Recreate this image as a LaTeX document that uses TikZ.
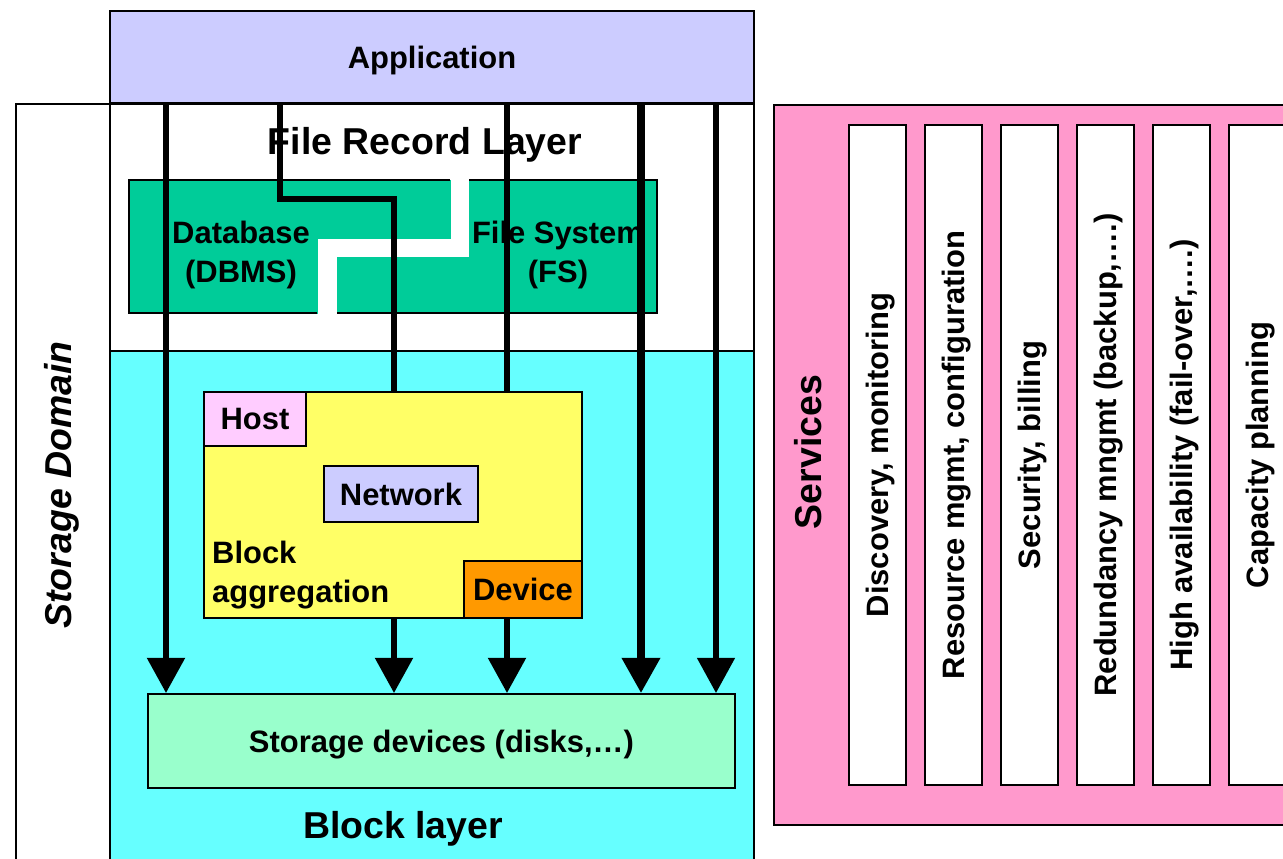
\documentclass[tikz,border=0pt]{standalone}
\usepackage{fontspec}
\setmainfont{Liberation Sans}
\usepackage{xcolor}
\usetikzlibrary{arrows.meta, positioning, calc}
\definecolor{sdlav}{RGB}{204,204,255}
\definecolor{sdgreen}{RGB}{0,204,153}
\definecolor{sdcyan}{RGB}{102,255,255}
\definecolor{sdyellow}{RGB}{255,255,102}
\definecolor{sdhost}{RGB}{255,204,255}
\definecolor{sdorange}{RGB}{255,153,0}
\definecolor{sdmint}{RGB}{153,255,204}
\definecolor{sdpink}{RGB}{255,153,204}
\newcommand{\bodyfont}{\fontsize{17.6}{22.6}\selectfont\bfseries}
\newcommand{\titlefont}{\fontsize{21.3}{25}\selectfont\bfseries}
\tikzset{
  box/.style={draw=black, line width=1.1pt, inner sep=0pt, text depth=0pt, font=\bodyfont},
  sz/.style 2 args={minimum width=#1*0.2mm, minimum height=#2*0.2mm},
  wire/.style={line width=3.3pt},
  flow/.style={line width=3.3pt, -{Triangle[length=20pt, width=21pt]}},
}

\begin{document}
\begin{tikzpicture}[x=0.2mm, y=-0.2mm]
\useasboundingbox (0,0) rectangle (1283,858);
\fill[white] (0,0) rectangle (1283,858);
\clip (0,0) rectangle (1283,858);

% layers
\node[box, fill=white, sz={94}{770}, anchor=north west] (domain) at (15,103) {};
\node[rotate=90, font=\titlefont\itshape] (domlbl) at (62,485) {Storage Domain};
\node[box, fill=sdlav, sz={644}{92}, anchor=north west] (app) at (109,10) {Application};
\node[box, fill=white, sz={644}{247}, anchor=north west] (frl) at (109,103) {};
\node[font=\titlefont] (frllbl) at (425,145) {File Record Layer};
\node[box, fill=sdcyan, sz={644}{520}, anchor=north west] (blk) at (109,350) {};
\node[font=\titlefont] (blklbl) at (403,829) {Block layer};

% database / file system
\draw[sdgreen, fill=sdgreen] (129,180) -- (450,180) -- (450,238) -- (317,238)
  -- (317,313) -- (129,313) -- cycle;
\draw[line width=1.1pt] (450,180) -- (129,180) -- (129,313) -- (317,313);
\draw[sdgreen, fill=sdgreen] (469,180) -- (657,180) -- (657,313) -- (337,313)
  -- (337,257) -- (469,257) -- cycle;
\draw[line width=1.1pt] (469,180) -- (657,180) -- (657,313) -- (337,313);
\node[font=\bodyfont, align=center] (dbms) at (241,255) {Database\\(DBMS)};
\node[font=\bodyfont, align=center] (fs) at (558,255) {File System\\(FS)};

% block aggregation
\node[box, fill=sdyellow, sz={378}{226}, anchor=north west] (agg) at (203,391) {};
\node[box, fill=sdhost, sz={102}{54}, anchor=north west] (host) at (203,391) {Host};
\node[box, fill=sdlav, sz={154}{56}, anchor=north west] (net) at (323,465) {Network};
\node[box, fill=sdorange, sz={118}{57}, anchor=north west] (dev) at (463,560) {Device};
\node[font=\bodyfont, align=left, anchor=west] (agglbl) at (206,575) {Block\\aggregation};
\node[box, fill=sdmint, sz={587}{94}, anchor=north west] (disks) at (147,693)
  {Storage devices (disks,…)};

% ---- services ----
\node[box, fill=sdpink, sz={530}{720}, anchor=north west] (srv) at (773,104) {};
\node[rotate=90, font=\titlefont] (srvlbl) at (808,452) {Services};
\foreach \i/\txt in {0/{Discovery, monitoring},
                     1/{Resource mgmt, configuration},
                     2/{Security, billing},
                     3/{Redundancy mngmt (backup,….)},
                     4/{High availability (fail-over,….)},
                     5/{Capacity planning}}{
  \node[box, fill=white, sz={660}{57}, rotate=90] (col\i) at (877.5+76*\i,455) {\txt};
}

% ---- flows ----
\coordinate (xa) at (166,0);
\coordinate (kink) at (280,199);
\coordinate (xb) at (394,0);
\coordinate (xc) at (507,0);
\coordinate (xd) at (641,0);
\coordinate (xe) at (716,0);
\draw[flow] (app.south -| xa) -- (disks.north -| xa);
\draw[wire] (app.south -| kink) -- (kink) -| (agg.north -| xb);
\draw[wire] (app.south -| xc) -- (agg.north -| xc);
\draw[flow] (agg.south -| xb) -- (disks.north -| xb);
\draw[flow] (agg.south -| xc) -- (disks.north -| xc);
\draw[flow, line width=4.2pt] (app.south -| xd) -- (disks.north -| xd);
\draw[flow, line width=3pt] (app.south -| xe) -- (disks.north -| xe);
\end{tikzpicture}
\end{document}
